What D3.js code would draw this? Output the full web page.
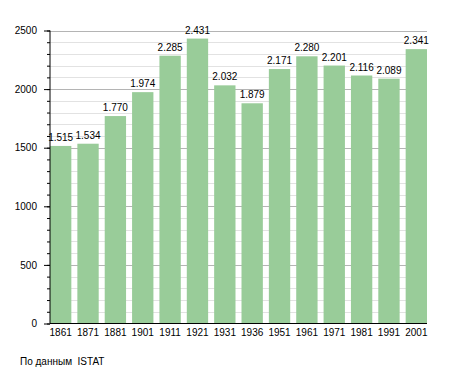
<!DOCTYPE html>
<html>
<head>
<meta charset="utf-8">
<script src="https://cdn.jsdelivr.net/npm/d3@7"></script>
<style>
  body { margin: 0; background: #fff; }
  svg { display: block; font-family: "Liberation Sans", Arial, sans-serif; }
</style>
</head>
<body>
<div id="visual-container"></div>
<script>
const years = ['1861', '1871', '1881', '1901', '1911', '1921', '1931', '1936', '1951', '1961', '1971', '1981', '1991', '2001']
const population = [1515, 1534, 1770, 1974, 2285, 2431, 2032, 1879, 2171, 2280, 2201, 2116, 2089, 2341]
const yTicks = [0, 500, 1000, 1500, 2000, 2500]
const source = 'По данным  ISTAT'

const width = 455
const height = 373
const plotLeft = 50
const plotRight = 427
const plotTop = 30.5
const plotBottom = 323.5

const svg = d3.select('#visual-container')
              .append('svg')
              .attr('width', width)
              .attr('height', height)

const xScale = d3.scaleBand()
                 .domain(years)
                 .range([plotLeft, plotRight])
                 .paddingInner(0.22)
                 .paddingOuter(0)

const yScale = d3.scaleLinear()
                 .domain([0, 2500])
                 .range([plotBottom, plotTop])

// grid lines every 100, darker every 500
svg.append('g')
    .selectAll('line')
    .data(d3.range(100, 2501, 100))
    .enter()
    .append('line')
    .attr('x1', plotLeft)
    .attr('x2', plotRight)
    .attr('y1', d => Math.round(yScale(d)) + 0.5)
    .attr('y2', d => Math.round(yScale(d)) + 0.5)
    .attr('stroke', d => d % 500 === 0 ? '#b4b4b4' : '#e2e2e2')
    .attr('stroke-width', 1)

// bars
svg.selectAll('rect.bar')
    .data(population)
    .enter()
    .append('rect')
    .attr('class', 'bar')
    .attr('x', (d, i) => xScale(years[i]))
    .attr('width', xScale.bandwidth())
    .attr('y', d => yScale(d))
    .attr('height', d => plotBottom - yScale(d))
    .attr('fill', '#99cc99')

// value labels
svg.selectAll('text.value')
    .data(population)
    .enter()
    .append('text')
    .attr('class', 'value')
    .attr('x', (d, i) => xScale(years[i]) + xScale.bandwidth() / 2)
    .attr('y', d => yScale(d) - 5)
    .attr('text-anchor', 'middle')
    .attr('font-size', 10)
    .attr('fill', '#000')
    .text(d => d3.format(',')(d).replace(',', '.'))

// y axis with minor ticks
const yMinor = d3.axisLeft(yScale)
                 .tickValues(d3.range(0, 2501, 100))
                 .tickSize(3)
                 .tickFormat('')
svg.append('g')
    .attr('transform', `translate(${plotLeft}, 0)`)
    .call(yMinor)
    .call(g => g.select('.domain').remove())

const yAxis = d3.axisLeft(yScale)
                .tickValues(yTicks)
                .tickSize(6)
                .tickPadding(7)
                .tickFormat(d3.format('d'))
svg.append('g')
    .attr('id', 'y-axis')
    .attr('transform', `translate(${plotLeft}, 0)`)
    .call(yAxis)
    .call(g => g.select('.domain').attr('d', `M0,${plotTop}V${plotBottom}`))
    .call(g => g.selectAll('text').attr('font-size', 10).attr('font-family', null))

// x axis
const xAxis = d3.axisBottom(xScale)
                .tickSize(0)
                .tickPadding(5)
svg.append('g')
    .attr('id', 'x-axis')
    .attr('transform', `translate(0, ${plotBottom})`)
    .call(xAxis)
    .call(g => g.select('.domain').attr('d', `M${plotLeft},0H${plotRight}`))
    .call(g => g.selectAll('text').attr('font-size', 10).attr('font-family', null))

svg.append('text')
    .attr('x', 20)
    .attr('y', 365)
    .attr('font-size', 10)
    .style('white-space', 'pre')
    .text(source)
</script>
</body>
</html>
